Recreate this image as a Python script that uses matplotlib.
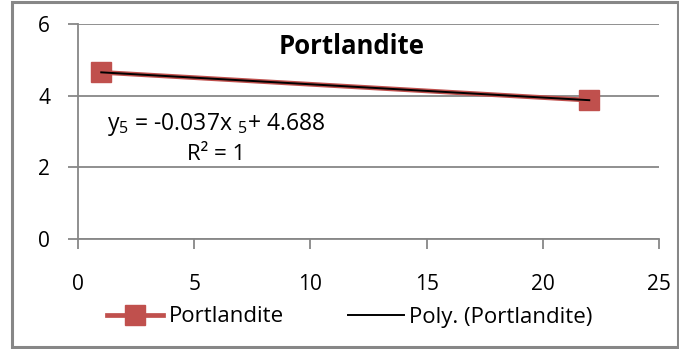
import matplotlib
matplotlib.use("Agg")
import matplotlib.pyplot as plt
from matplotlib.patches import Rectangle

plt.rcParams['font.family'] = ['Open Sans', 'DejaVu Sans']
plt.rcParams['mathtext.default'] = 'regular'

# data
dias = [1, 22]
portlandite = [4.651, 3.874]
coef = [-0.037, 4.688]
x_ticks = [0, 5, 10, 15, 20, 25]
y_ticks = [0, 2, 4, 6]

red = '#C0504D'
grey = '#878787'

fig = plt.figure(figsize=(6.79, 3.49), dpi=100)
ax = fig.add_axes([78/679, 1-239/349, (659-78)/679, (239-24)/349])

ax.plot(dias, portlandite, color=red, lw=3.4, marker='s', ms=14,
        mec=red, mfc=red, label='Portlandite', zorder=3)
xt = [dias[0], dias[-1]]
ax.plot(xt, [coef[0]*v + coef[1] for v in xt], color='black', lw=1.4,
        label='Poly. (Portlandite)', zorder=4)

ax.set_xlim(0, 25)
ax.set_ylim(0, 6)
ax.set_xticks(x_ticks)
ax.set_yticks(y_ticks)
ax.grid(axis='y', color=grey, lw=1.3)
ax.set_axisbelow(True)
for s in ['top', 'right']:
    ax.spines[s].set_visible(False)
for s in ['left', 'bottom']:
    ax.spines[s].set_color(grey)
    ax.spines[s].set_linewidth(1.3)
ax.tick_params(axis='both', colors=grey, width=1.3, length=7, labelsize=15,
               labelcolor='black')
ax.tick_params(axis='x', pad=18)
ax.tick_params(axis='y', pad=13)

fig.text(352/679, 1-46/349, 'Portlandite', ha='center', va='center',
         fontsize=18.5, fontweight='bold')
fig.text(216/679, 1-125/349, 'y$_5$ = -0.037x $_5$+ 4.688', ha='center',
         va='center', fontsize=16.5)
fig.text(216/679, 1-155/349, 'R² = 1', ha='center', va='center', fontsize=16)

fig.legend(loc='center', bbox_to_anchor=(350/679, 1-317/349), ncol=2,
           frameon=False, fontsize=16, handlelength=2.5, handletextpad=0.25,
           columnspacing=2.9, borderaxespad=0)

fig.add_artist(Rectangle((12/679, 2/349), 666/679, 345/349, fill=False,
                         ec=grey, lw=2.2, transform=fig.transFigure))

fig.savefig('out.png', dpi=100)
